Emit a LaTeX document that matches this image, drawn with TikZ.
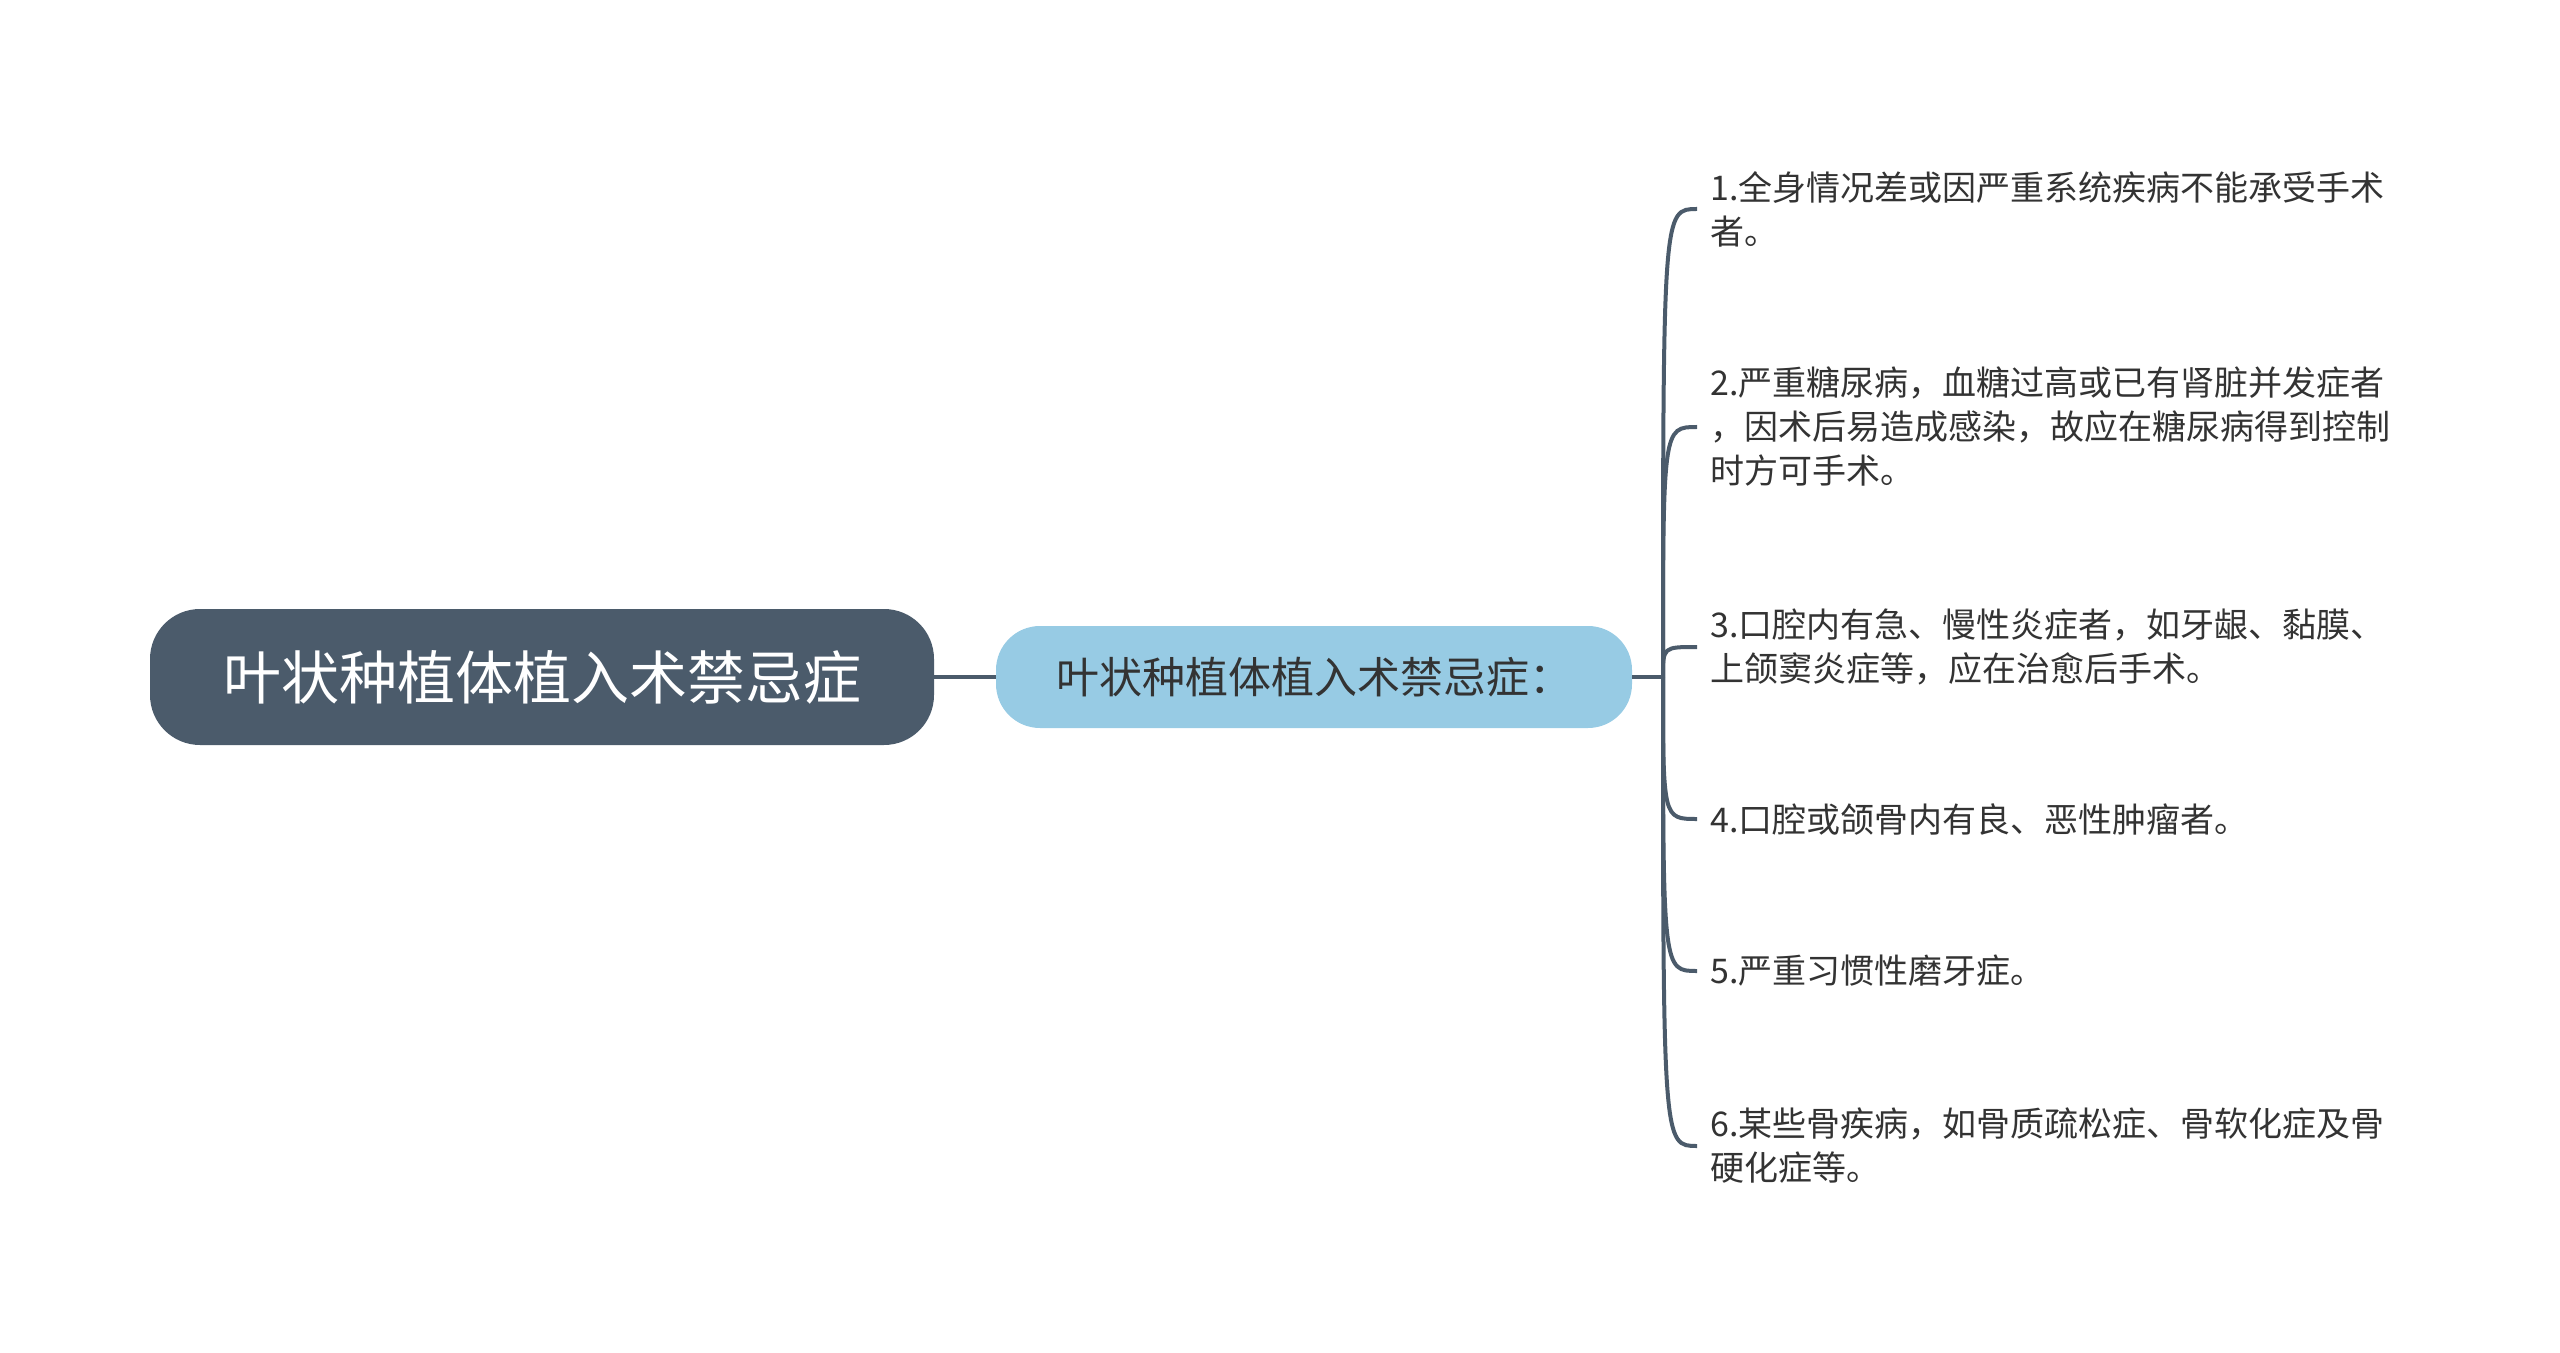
\documentclass[tikz,border=0pt]{standalone}
\usepackage{fontspec}
\setmainfont{Noto Sans CJK SC}
\usepackage{tikz}
\usetikzlibrary{calc}
\definecolor{slate}{RGB}{75, 91, 107}
\definecolor{skyblue}{RGB}{151, 203, 228}
\definecolor{inkgray}{RGB}{51, 51, 51}

\begin{document}
\begin{tikzpicture}[x=0.5pt, y=-0.5pt,
  rootbox/.style={fill=slate, rounded corners=25pt, minimum width=392pt, minimum height=68pt, text=white, font=\fontsize{29}{34}\selectfont},
  subbox/.style={fill=skyblue, rounded corners=22pt, minimum width=318pt, minimum height=51pt, text=inkgray, font=\fontsize{21.5}{26}\selectfont},
  leaf/.style={anchor=west, inner xsep=6.5pt, inner ysep=0pt, align=left, text=inkgray, font=\fontsize{17}{22}\selectfont},
  branch/.style={draw=slate, line width=2pt}]
  \useasboundingbox (0, 0) rectangle (2560, 1353);

  % Root and sub topic
  \node[rootbox] (root) at (542, 677) {叶状种植体植入术禁忌症};
  \node[subbox] (sub) at (1314, 677) {叶状种植体植入术禁忌症：};
  \draw[branch] (root) -- (sub);

  % Leaves
  \node[leaf] (leaf1) at (1697, 209) {1.全身情况差或因严重系统疾病不能承受手术\\者。};
  \node[leaf] (leaf2) at (1697, 427) {2.严重糖尿病，血糖过高或已有肾脏并发症者\\，因术后易造成感染，故应在糖尿病得到控制\\时方可手术。};
  \node[leaf] (leaf3) at (1697, 647) {3.口腔内有急、慢性炎症者，如牙龈、黏膜、\\上颌窦炎症等，应在治愈后手术。};
  \node[leaf] (leaf4) at (1697, 819) {4.口腔或颌骨内有良、恶性肿瘤者。};
  \node[leaf] (leaf5) at (1697, 971) {5.严重习惯性磨牙症。};
  \node[leaf] (leaf6) at (1697, 1146) {6.某些骨疾病，如骨质疏松症、骨软化症及骨\\硬化症等。};

  % Trunk and branches
  \coordinate (jn) at (1663, 677);
  \draw[branch] (sub.east) -- (jn);
  \draw[branch] (jn) .. controls (jn |- leaf1.west) and (jn |- leaf1.west) .. (leaf1.west);
  \draw[branch] (jn) .. controls (jn |- leaf2.west) and (jn |- leaf2.west) .. (leaf2.west);
  \draw[branch] (jn) .. controls (jn |- leaf3.west) and (jn |- leaf3.west) .. (leaf3.west);
  \draw[branch] (jn) .. controls (jn |- leaf4.west) and (jn |- leaf4.west) .. (leaf4.west);
  \draw[branch] (jn) .. controls (jn |- leaf5.west) and (jn |- leaf5.west) .. (leaf5.west);
  \draw[branch] (jn) .. controls (jn |- leaf6.west) and (jn |- leaf6.west) .. (leaf6.west);
\end{tikzpicture}
\end{document}
